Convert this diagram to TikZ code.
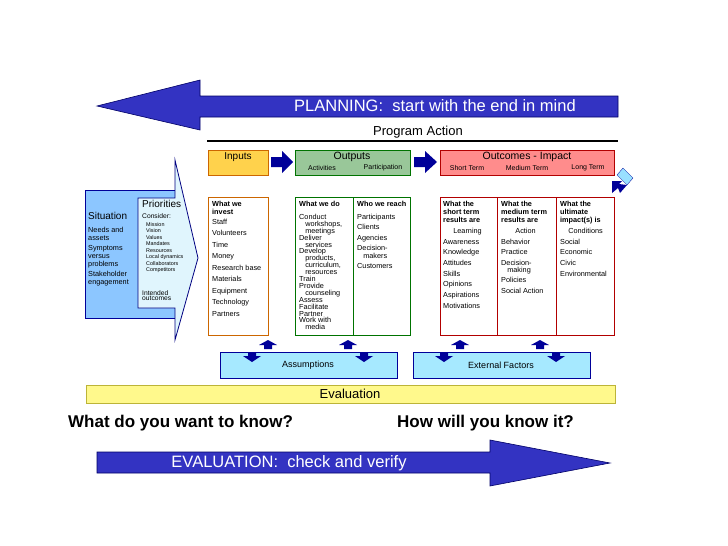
\documentclass[tikz,border=0pt]{standalone}
\usepackage{fontspec}
\setmainfont{Liberation Sans}
\begin{document}
\begin{tikzpicture}[x=1pt,y=-1pt,
  bigarrow/.style={fill=blue!75!black!90,draw=blue!40!black,line width=0.6pt},
  hdr/.style={draw,line width=0.8pt},
  col/.style={draw,line width=0.9pt,fill=white},
  ct/.style={anchor=north west,align=left,font=\fontsize{7.3}{8}\selectfont,inner sep=0pt},
  tiny/.style={anchor=north west,align=left,font=\fontsize{5.4}{6.5}\selectfont,inner sep=0pt},
  lb/.style={fill=blue!25!cyan!35,draw=blue!60!black,line width=0.8pt}]
\useasboundingbox (0,0) rectangle (728,546);
% top arrow
\draw[bigarrow,fill=blue!70!black!80] (618,96) -- (200,96) -- (200,80) -- (97,106) -- (200,130) -- (200,117) -- (618,117) -- cycle;
\node[text=white,font=\fontsize{16.5}{18}\selectfont] (plan) at (435,106) {PLANNING:\ \ start with the end in mind};
% program action
\node[font=\fontsize{13}{14}\selectfont] (pa) at (418,132) {Program Action};
\draw[line width=1.6pt] (207,141) -- (618,141);
% headers
\node[hdr,draw=orange!80!black,fill=orange!50!yellow!70,minimum width=60,minimum height=25,anchor=north west,inner sep=0pt] (inp) at (208,150) {};
\node[font=\fontsize{10}{11}\selectfont] at (238,157) {Inputs};
\node[hdr,draw=green!45!black,fill=green!45!black!40!white,minimum width=115,minimum height=25,anchor=north west,inner sep=0pt] (outp) at (295,150) {};
\node[font=\fontsize{10.5}{11}\selectfont] at (352,157) {Outputs};
\node[font=\fontsize{7}{7}\selectfont] at (322,168) {Activities};
\node[font=\fontsize{7}{7}\selectfont] at (383,168) {Participation};
\node[hdr,draw=red!70!black,fill=red!45,minimum width=174,minimum height=25,anchor=north west,inner sep=0pt] (outc) at (440,150) {};
\node[font=\fontsize{10.5}{11}\selectfont] at (527,157) {Outcomes - Impact};
\node[font=\fontsize{7}{7}\selectfont] at (467,168) {Short Term};
\node[font=\fontsize{7}{7}\selectfont] at (527,168) {Medium Term};
\node[font=\fontsize{7}{7}\selectfont] at (588,168) {Long Term};
% header arrows
\fill[blue!60!black] (271,157) -- (282,157) -- (282,151) -- (293,162) -- (282,173) -- (282,167) -- (271,167) -- cycle;
\fill[blue!60!black] (414,157) -- (425,157) -- (425,151) -- (437,162) -- (425,173) -- (425,167) -- (414,167) -- cycle;
% curved arrow
\fill[blue!30!cyan!40,draw=blue!60!black,line width=0.3pt] (617,175) -- (623,168) -- (633,178) -- (627,185) -- cycle;
\fill[blue!60!black] (627,185) -- (620,193) -- (618,188) -- (612,193) -- (612,181) -- (622,181) -- (619,184) -- cycle;
% situation arrow
\fill[blue!50!cyan!45,draw=blue!60!black,line width=0.8pt] (85,190) rectangle (175,318);
\draw[fill=cyan!12,draw=blue!50!black,line width=0.8pt] (138,198) -- (175,198) -- (175,160) -- (198,258) -- (175,340) -- (175,308) -- (138,308) -- cycle;
\node[anchor=north west,inner sep=0pt,font=\fontsize{10}{11}\selectfont] (sit) at (88,212) {Situation};
\node[ct,font=\fontsize{7.3}{8}\selectfont] at (88,227) {Needs and\\assets\\[2pt]Symptoms\\versus\\problems\\[2pt]Stakeholder\\engagement};
\node[anchor=north west,inner sep=0pt,font=\fontsize{10}{11}\selectfont] (pri) at (142,200) {Priorities};
\node[ct,font=\fontsize{6.7}{7}\selectfont] at (142,213) {Consider:};
\node[tiny] at (146,222) {Mission\\Vision\\Values\\Mandates\\Resources\\Local dynamics\\Collaborators\\Competitors};
\node[ct,font=\fontsize{6.7}{5.8}\selectfont] at (142,290) {Intended\\outcomes};
% columns
\draw[col,draw=orange!80!black] (208,197) rectangle (268,335);
\node[ct,font=\fontsize{7.3}{7.8}\bfseries\selectfont] at (212,201) {What we\\invest};
\node[ct,font=\fontsize{7.3}{11.5}\selectfont] at (212,219) {Staff\\Volunteers\\Time\\Money\\Research base\\Materials\\Equipment\\Technology\\Partners};
\draw[col,draw=green!45!black] (295,197) rectangle (410,335);
\draw[green!45!black,line width=0.9pt] (353,197) -- (353,335);
\node[ct,font=\fontsize{7.3}{7.8}\bfseries\selectfont] at (299,201) {What we do};
\node[ct,font=\fontsize{7.3}{6.9}\selectfont] at (299,214) {Conduct\\\ \ \ workshops,\\\ \ \ meetings\\Deliver\\\ \ \ services\\Develop\\\ \ \ products,\\\ \ \ curriculum,\\\ \ \ resources\\Train\\Provide\\\ \ \ counseling\\Assess\\Facilitate\\Partner\\Work with\\\ \ \ media};
\node[ct,font=\fontsize{7.3}{7.8}\bfseries\selectfont] at (357,201) {Who we reach};
\node[ct,font=\fontsize{7.3}{7.5}\selectfont] at (357,214) {Participants\\[3pt]Clients\\[3pt]Agencies\\[3pt]Decision-\\\ \ \ makers\\[3pt]Customers};
\draw[col,draw=red!70!black] (440,197) rectangle (614,335);
\draw[red!70!black,line width=0.9pt] (497,197) -- (497,335) (556,197) -- (556,335);
\node[ct,font=\fontsize{7.3}{7.8}\bfseries\selectfont] at (443,201) {What the\\short term\\results are};
\node[ct,font=\fontsize{7.3}{10.7}\selectfont] at (443,228) {\ \ \ \ \ Learning\\Awareness\\Knowledge\\Attitudes\\Skills\\Opinions\\Aspirations\\Motivations};
\node[ct,font=\fontsize{7.3}{7.8}\bfseries\selectfont] at (501,201) {What the\\medium term\\results are};
\node[ct,font=\fontsize{7.3}{10.7}\selectfont] at (501,228) {\ \ \ \ \ \ \ Action\\Behavior\\Practice\\Decision-\\[-4pt]\ \ \ making\\Policies\\Social Action};
\node[ct,font=\fontsize{7.3}{7.8}\bfseries\selectfont] at (560,201) {What the\\ultimate\\impact(s) is};
\node[ct,font=\fontsize{7.3}{10.7}\selectfont] at (560,228) {\ \ \ \ Conditions\\Social\\Economic\\Civic\\Environmental};
% assumptions / external
\node[lb,minimum width=177,minimum height=26,anchor=north west,inner sep=0pt] (as) at (220,352) {};
\node[font=\fontsize{9}{10}\selectfont] at (308,365) {Assumptions};
\node[lb,minimum width=177,minimum height=26,anchor=north west,inner sep=0pt] (ef) at (413,352) {};
\node[font=\fontsize{9}{10}\selectfont] at (501,365) {External Factors};
\foreach \x in {268,348,460,540}{
  \fill[blue!60!black] (\x-4,349) -- (\x-4,345) -- (\x-9,345) -- (\x,340) -- (\x+9,345) -- (\x+4,345) -- (\x+4,349) -- cycle;
}
\foreach \x in {252,364,444,556}{
  \fill[blue!60!black] (\x-4,353) -- (\x-4,356) -- (\x-9,356) -- (\x,362) -- (\x+9,356) -- (\x+4,356) -- (\x+4,353) -- cycle;
}
% evaluation
\node[draw=yellow!70!black,fill=yellow!45,line width=0.8pt,minimum width=529,minimum height=18,anchor=north west,inner sep=0pt] (ev) at (86,385) {};
\node[font=\fontsize{13}{14}\selectfont] at (350,394) {Evaluation};
\node[font=\fontsize{17}{20}\bfseries\selectfont,anchor=west,inner sep=0pt] (q1) at (68,423) {What do you want to know?};
\node[font=\fontsize{17}{20}\bfseries\selectfont,anchor=west,inner sep=0pt] (q2) at (397,423) {How will you know it?};
% bottom arrow
\draw[bigarrow,fill=blue!70!black!80] (97,452) -- (490,452) -- (490,440) -- (610,463) -- (490,486) -- (490,473) -- (97,473) -- cycle;
\node[text=white,font=\fontsize{16.5}{18}\selectfont] (eva) at (289,463) {EVALUATION:\ \ check and verify};
\end{tikzpicture}
\end{document}
